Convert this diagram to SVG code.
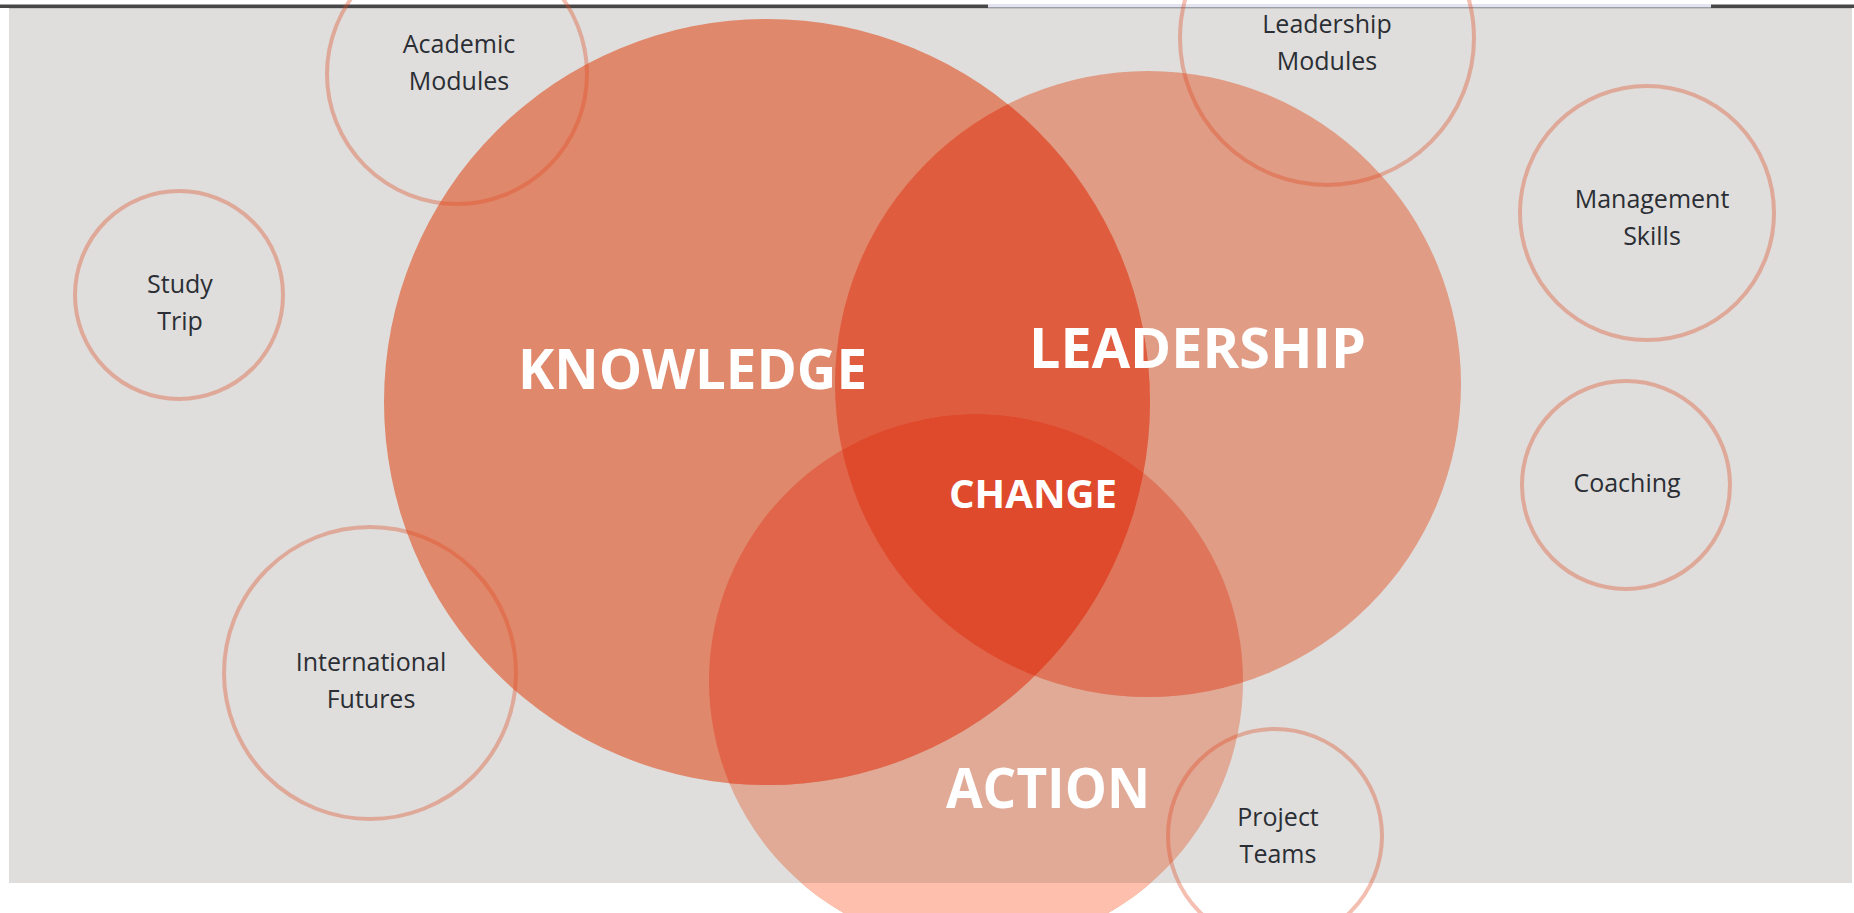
<svg xmlns="http://www.w3.org/2000/svg" width="1854" height="913" viewBox="0 0 1854 913">
  <style>
    .ring { fill: none; stroke: #e14a24; stroke-opacity: 0.36; stroke-width: 4; }
    .lbl { font-family: "Open Sans", "Noto Sans", sans-serif; font-size: 25px; fill: #2b2e34; text-anchor: middle; }
    .big { font-family: "Open Sans", "Noto Sans", sans-serif; font-weight: 700; fill: #ffffff; }
  </style>
  <defs>
    <clipPath id="cK"><circle cx="767" cy="402" r="383"/></clipPath>
    <clipPath id="cL"><circle cx="1148" cy="384" r="313"/></clipPath>
    <clipPath id="cBelow"><rect x="0" y="883" width="1854" height="30"/></clipPath>
  </defs>

  <!-- page background -->
  <rect x="0" y="0" width="1854" height="913" fill="#ffffff"/>
  <rect x="0" y="4.5" width="1854" height="3.5" fill="#474747"/>
  <rect x="988" y="4" width="723" height="3.5" fill="#e4e4f0"/>
  <rect x="988" y="7.5" width="723" height="1" fill="#a8a8b4"/>
  <rect x="9" y="8" width="1843" height="875" fill="#dfdedc"/>
  <rect x="9" y="8" width="1843" height="1" fill="#c4c4c4"/>

  <!-- big circles -->
  <g id="action">
    <circle cx="976" cy="681" r="267" fill="#e0aa97"/>
    <circle cx="976" cy="681" r="267" fill="#fec0ac" clip-path="url(#cBelow)"/>
  </g>
  <g id="leadership">
    <circle cx="1148" cy="384" r="313" fill="#e09c85"/>
  </g>
  <g id="knowledge">
    <circle cx="767" cy="402" r="383" fill="#e0886b"/>
  </g>
  <g id="overlaps">
    <circle cx="1148" cy="384" r="313" fill="#e05c3f" clip-path="url(#cK)"/>
    <circle cx="976" cy="681" r="267" fill="#e0654a" clip-path="url(#cK)"/>
    <circle cx="976" cy="681" r="267" fill="#df765b" clip-path="url(#cL)"/>
    <g clip-path="url(#cL)">
      <circle cx="976" cy="681" r="267" fill="#df4a2c" clip-path="url(#cK)"/>
    </g>
  </g>

  <!-- big labels -->
  <g id="labels-main">
    <text class="big" x="518" y="389" font-size="56" textLength="349" lengthAdjust="spacingAndGlyphs">KNOWLEDGE</text>
    <text class="big" x="1029" y="368" font-size="56" textLength="337" lengthAdjust="spacingAndGlyphs">LEADERSHIP</text>
    <text class="big" x="949" y="508" font-size="39" textLength="168" lengthAdjust="spacingAndGlyphs">CHANGE</text>
    <text class="big" x="946" y="808" font-size="56" textLength="204" lengthAdjust="spacingAndGlyphs">ACTION</text>
  </g>

  <!-- satellite circles -->
  <g id="academic-modules">
    <circle class="ring" cx="457" cy="74" r="130"/>
    <text class="lbl" x="459" y="53">Academic</text>
    <text class="lbl" x="459" y="90">Modules</text>
  </g>
  <g id="study-trip">
    <circle class="ring" cx="179" cy="295" r="104"/>
    <text class="lbl" x="180" y="293">Study</text>
    <text class="lbl" x="180" y="330">Trip</text>
  </g>
  <g id="international-futures">
    <circle class="ring" cx="370" cy="673" r="146"/>
    <text class="lbl" x="371" y="671">International</text>
    <text class="lbl" x="371" y="708">Futures</text>
  </g>
  <g id="leadership-modules">
    <circle class="ring" cx="1327" cy="38" r="147"/>
    <text class="lbl" x="1327" y="33">Leadership</text>
    <text class="lbl" x="1327" y="70">Modules</text>
  </g>
  <g id="management-skills">
    <circle class="ring" cx="1647" cy="213" r="127"/>
    <text class="lbl" x="1652" y="208">Management</text>
    <text class="lbl" x="1652" y="245">Skills</text>
  </g>
  <g id="coaching">
    <circle class="ring" cx="1626" cy="485" r="104"/>
    <text class="lbl" x="1627" y="492">Coaching</text>
  </g>
  <g id="project-teams">
    <circle class="ring" cx="1275" cy="836" r="107"/>
    <text class="lbl" x="1278" y="826">Project</text>
    <text class="lbl" x="1278" y="863">Teams</text>
  </g>
  <g id="connectors"/>
</svg>
